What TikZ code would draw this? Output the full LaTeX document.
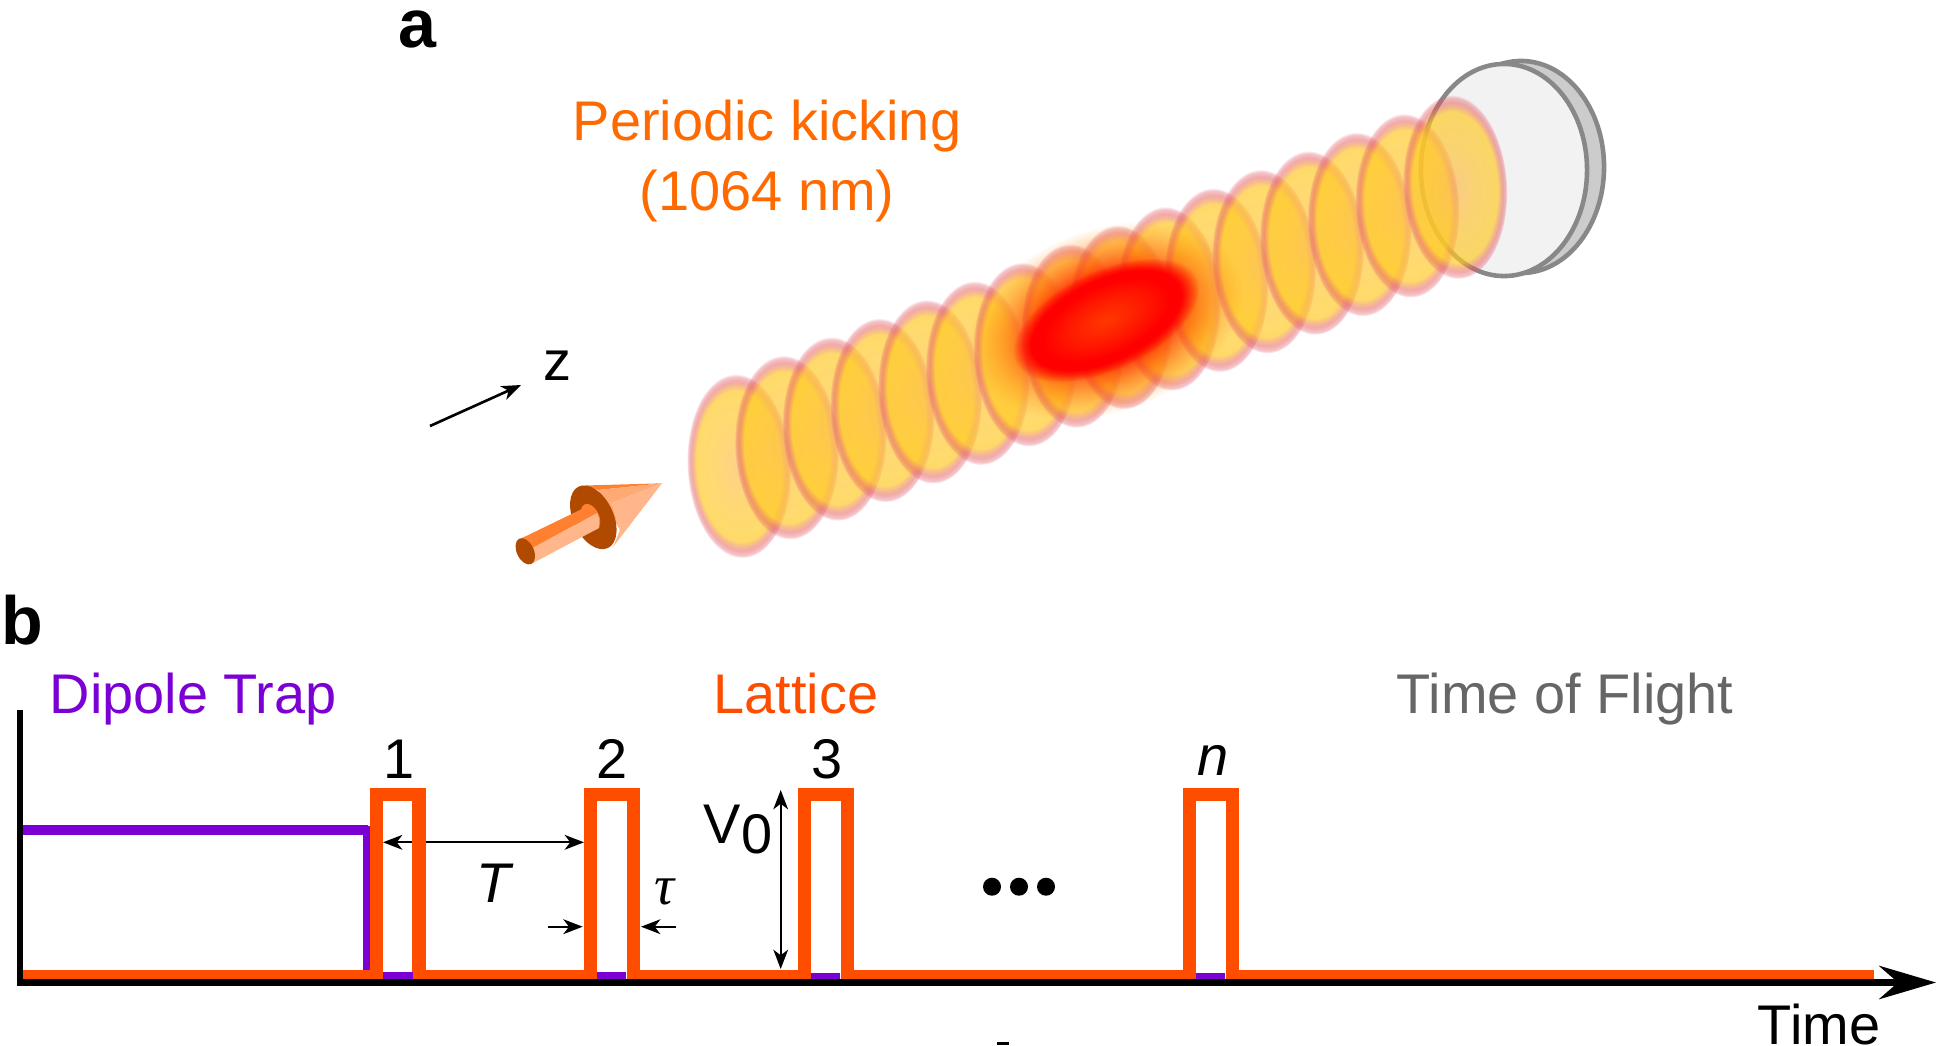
\documentclass[tikz,border=0pt]{standalone}
\usepackage{fontspec}
\setmainfont{Liberation Sans}
\newfontfamily\taufont{Liberation Serif}
\usetikzlibrary{arrows.meta,fadings}

\definecolor{latorange}{RGB}{255,77,0}
\definecolor{kickorange}{RGB}{255,106,0}
\definecolor{trappurple}{RGB}{122,0,212}
\definecolor{tofgray}{RGB}{102,102,102}
\definecolor{mirroredge}{RGB}{136,136,136}
\definecolor{pointerdark}{RGB}{176,74,0}
\definecolor{pointermid}{RGB}{255,128,48}
\definecolor{pointerlight}{RGB}{255,182,138}

\pgfdeclareradialshading{discshade}{\pgfpoint{0bp}{0bp}}{%
  rgb(0bp)=(0.99,0.72,0.30);
  rgb(10bp)=(1,0.77,0.20);
  rgb(20.5bp)=(1,0.79,0.14);
  rgb(23bp)=(0.90,0.36,0.36);
  rgb(25bp)=(0.88,0.36,0.44);
  rgb(50bp)=(0.88,0.36,0.44)}
\pgfdeclareradialshading{discalpha}{\pgfpoint{0bp}{0bp}}{%
  gray(0bp)=(0.66);
  gray(20.5bp)=(0.68);
  gray(23bp)=(0.52);
  gray(24.2bp)=(0.36);
  gray(25bp)=(0);
  gray(50bp)=(0)}
\pgfdeclarefading{discfade}{\pgfuseshading{discalpha}}
\pgfdeclareradialshading{coreshade}{\pgfpoint{0bp}{0bp}}{%
  rgb(0bp)=(1,0.22,0);
  rgb(10bp)=(1,0.10,0);
  rgb(17bp)=(1,0,0);
  rgb(50bp)=(1,0,0)}
\pgfdeclareradialshading{corealpha}{\pgfpoint{0bp}{0bp}}{%
  gray(0bp)=(1);
  gray(20bp)=(1);
  gray(25bp)=(0);
  gray(50bp)=(0)}
\pgfdeclarefading{corefade}{\pgfuseshading{corealpha}}
\pgfdeclareradialshading{haloshade}{\pgfpoint{0bp}{0bp}}{%
  rgb(0bp)=(1,0,0);
  rgb(13bp)=(1,0.18,0);
  rgb(25bp)=(1,0.58,0);
  rgb(50bp)=(1,0.58,0)}
\pgfdeclareradialshading{haloalpha}{\pgfpoint{0bp}{0bp}}{%
  gray(0bp)=(1);
  gray(12bp)=(0.88);
  gray(25bp)=(0);
  gray(50bp)=(0)}
\pgfdeclarefading{halofade}{\pgfuseshading{haloalpha}}

\tikzset{
  txt/.style={font=\fontsize{15.9}{19}\selectfont,inner sep=0pt},
  panel/.style={font=\fontsize{19.4}{23}\selectfont\bfseries,inner sep=0pt,anchor=base west},
  dim/.style={line width=0.65pt,-{Stealth[length=5.5pt,width=4.2pt,inset=1.6pt]}},
  dimboth/.style={line width=0.65pt,{Stealth[length=5.5pt,width=4.2pt,inset=1.6pt]}-{Stealth[length=5.5pt,width=4.2pt,inset=1.6pt]}},
  pulse/.style={draw=latorange,line width=3.7pt,miter limit=10},
  base/.style={draw=latorange,line width=2.6pt},
  trap/.style={draw=trappurple},
  mirror/.style={draw=mirroredge,line width=1.3pt},
}

\begin{document}
\begin{tikzpicture}[x=0.01cm,y=-0.01cm]
  \useasboundingbox (0,0) rectangle (1936,1045);

  % mirror
  \fill[black!20] (1521,167) ellipse [x radius=0.83cm,y radius=1.06cm];
  \draw[mirror] (1521,167) ellipse [x radius=0.83cm,y radius=1.06cm];
  \fill[black!5] (1504,170) ellipse [x radius=0.83cm,y radius=1.06cm];
  \draw[mirror] (1504,170) ellipse [x radius=0.83cm,y radius=1.06cm];

  % lattice discs
  \foreach \i in {0,...,15} {
    \pgfmathsetmacro\cx{739+47.73*\i}
    \pgfmathsetmacro\cy{466-18.6*\i}
    \begin{scope}[transform canvas={shift={(\cx,\cy)},rotate=3}]
      \shade[shading=discshade,path fading=discfade] (0,0) ellipse [x radius=0.52cm,y radius=0.92cm];
    \end{scope}
  }

  % atoms
  \begin{scope}[transform canvas={shift={(1106,320)},rotate=20}]
    \shade[shading=haloshade,path fading=halofade] (0,0) ellipse [x radius=1.42cm,y radius=0.92cm];
  \end{scope}
  \begin{scope}[transform canvas={shift={(1106,320)},rotate=25}]
    \shade[shading=coreshade,path fading=corefade] (0,0) ellipse [x radius=1.00cm,y radius=0.50cm];
  \end{scope}

  % beam pointer
  \fill[pointermid] (585,485.5) -- (662,483.3) -- (598,490) -- cycle;
  \fill[pointerlight!75!pointermid] (598,490) -- (662,483.3) -- (612,503) -- (620,530) -- cycle;
  \fill[pointerlight] (612,503) -- (662,483.3) -- (613,547) -- (620,530) -- cycle;
  \fill[pointerdark] (593.3,517.3) ellipse [x radius=0.20cm,y radius=0.34cm,rotate=25.5];
  \fill[pointermid] (590.5,517) ellipse [x radius=0.085cm,y radius=0.14cm,rotate=25.5];
  \fill[pointermid] (520,539) -- (586.7,506.7) -- (597,513) -- (531,549) -- cycle;
  \fill[pointerlight] (531,549) -- (597,513) -- (599,518) -- (599,528) -- (533,563) -- cycle;
  \fill[pointerdark] (525.3,551.3) ellipse [x radius=0.085cm,y radius=0.14cm,rotate=25.5];

  % z direction
  \coordinate (ztail) at (430,426);
  \coordinate (ztip) at (521,385);
  \draw[dim,line width=0.75pt] (ztail) -- (ztip);
  \node[txt,anchor=base] (zlabel) at (557,380) {z};

  \node[panel] (panela) at (398,47) {a};
  \node[panel] (panelb) at (1,644) {b};
  \node[txt,anchor=base,text=kickorange] (kick1) at (767,140) {Periodic kicking};
  \node[txt,anchor=base,text=kickorange] (kick2) at (767,210) {(1064 nm)};

  \node[txt,anchor=base west,text=trappurple] (dipole) at (49,713) {Dipole Trap};
  \node[txt,anchor=base,text=latorange] (lattice) at (796,713) {Lattice};
  \node[txt,anchor=base west,text=tofgray] (tof) at (1396,713) {Time of Flight};

  % sequence axes
  \coordinate (axtop) at (20,710);
  \coordinate (axorig) at (20,982.5);
  \coordinate (axleft) at (17,982.5);
  \coordinate (axend) at (1936,982.5);
  \draw[line width=1.85pt] (axtop) -- (axorig);
  \draw[line width=1.85pt,-{Stealth[length=16.2pt,width=9.5pt,inset=5.4pt]}] (axleft) -- (axend);
  \node[txt,anchor=base] (timelabel) at (1819,1044) {Time};

  % dipole trap
  \draw[trap,line width=2.85pt] (23,830) -- (368,830);
  \draw[trap,line width=1.9pt] (366.5,826) -- (366.5,972);

  % dimension arrows
  \coordinate (T1) at (383,842.3);
  \coordinate (T2) at (584,842.3);
  \draw[dimboth] (T1) -- (T2);
  \coordinate (tauL1) at (548,926.7);
  \coordinate (tauL2) at (582.7,926.7);
  \coordinate (tauR1) at (675.7,926.7);
  \coordinate (tauR2) at (641,926.7);
  \draw[dim] (tauL1) -- (tauL2);
  \draw[dim] (tauR1) -- (tauR2);
  \coordinate (V1) at (780.7,790);
  \coordinate (V2) at (780.7,969);
  \draw[dimboth,line width=0.5pt] (V1) -- (V2);

  % lattice pulses
  \draw[base] (23,974.7) -- (376,974.7);
  \draw[base] (419,974.7) -- (590,974.7);
  \draw[base] (633,974.7) -- (804,974.7);
  \draw[base] (847,974.7) -- (1189,974.7);
  \draw[base] (1233,974.7) -- (1874,974.7);
  \draw[pulse] (376.5,979.3) -- (376.5,794.7) -- (419,794.7) -- (419,979.3);
  \draw[pulse] (590.5,979.3) -- (590.5,794.7) -- (633,794.7) -- (633,979.3);
  \draw[pulse] (804.5,979.3) -- (804.5,794.7) -- (847,794.7) -- (847,979.3);
  \draw[pulse] (1189.5,979.3) -- (1189.5,794.7) -- (1232,794.7) -- (1232,979.3);
  \fill[trappurple] (383,972) rectangle (413,979.3);
  \fill[trappurple] (597,972) rectangle (626,979.3);
  \fill[trappurple] (811,972.5) rectangle (840,979.3);
  \fill[trappurple] (1196,973) rectangle (1225,979.3);

  % pulse labels
  \node[txt,anchor=base] (p1) at (399,778) {1};
  \node[txt,anchor=base] (p2) at (612,778) {2};
  \node[txt,anchor=base] (p3) at (827,778) {3};
  \node[txt,anchor=base] (pn) at (1213,775) {\itshape n};
  \node[txt,anchor=base] (Tlabel) at (494,902) {\itshape T};
  \node[txt,anchor=base] (taulabel) at (664,904) {\taufont\itshape τ};
  \node[txt,anchor=base west] (Vlabel) at (703,843) {V\raisebox{-3.1pt}{0}};

  % dots
  \fill (992,886.7) circle [radius=0.09cm];
  \fill (1019,886.7) circle [radius=0.09cm];
  \fill (1046,886.7) circle [radius=0.09cm];

  \fill (997,1041.5) rectangle (1009,1045);
\end{tikzpicture}
\end{document}
